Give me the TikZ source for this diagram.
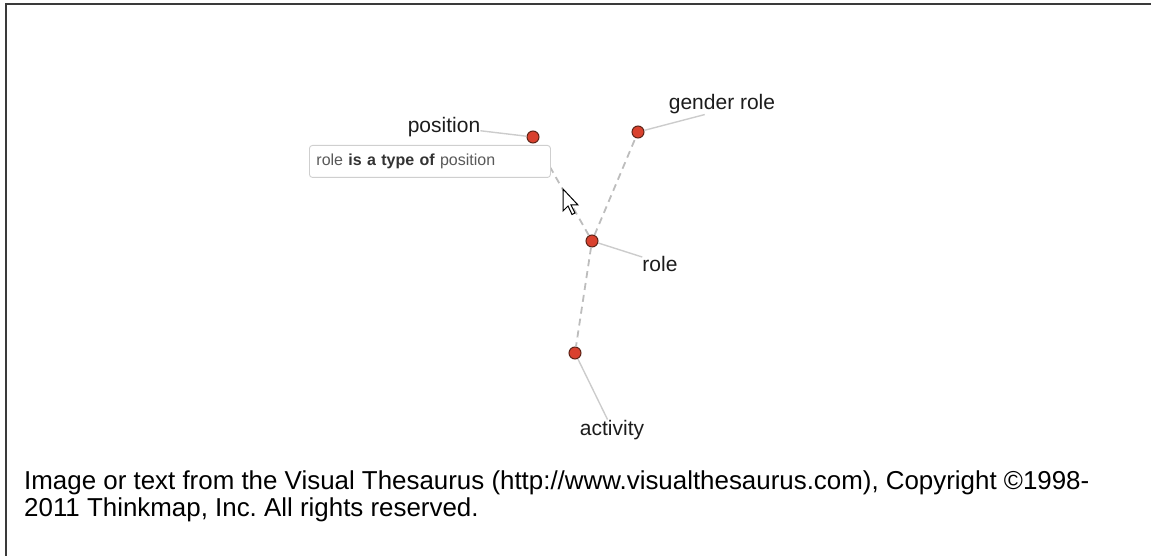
\documentclass[tikz,border=0pt]{standalone}
\usepackage{fontspec}
\setmainfont{Liberation Sans}
\usepackage{xcolor}

\begin{document}
\begin{tikzpicture}[x=1pt,y=-1pt,
  dotnode/.style={circle,draw=dotrim,fill=dotred,line width=1pt,inner sep=0pt,minimum size=12},
  wordlabel/.style={anchor=base,inner sep=0pt,text=labelgray,font=\fontsize{21}{25}\selectfont},
  solidedge/.style={draw=edgegray,line width=1.4pt},
  dashededge/.style={draw=dashgray,line width=1.8pt,dash pattern=on 7pt off 5pt},
  tipbox/.style={draw=boxgray,fill=white,line width=0.9pt,rounded corners=3pt,inner xsep=7,inner ysep=0,minimum height=32,text width=227,align=left,text=tipgray,font=\fontsize{16}{19}\selectfont}]
\definecolor{dotred}{HTML}{D9412E}
\definecolor{dotrim}{HTML}{5E2418}
\definecolor{edgegray}{HTML}{CCCCCC}
\definecolor{dashgray}{HTML}{BDBDBD}
\definecolor{labelgray}{HTML}{1C1C1C}
\definecolor{boxgray}{HTML}{CFCFCF}
\definecolor{tipgray}{HTML}{595959}
\definecolor{tipdark}{HTML}{333333}
\definecolor{framegray}{HTML}{3A3A3A}
\useasboundingbox (0,0) rectangle (1151,556);
\draw[framegray,line width=1.3pt] (6,556) -- (6,4) -- (1151,4);
% words and their dots
\foreach \name/\px/\py in {position/533/137,gender/638/132,role/592/241,activity/575/353}
  {\node [dotnode] (\name) at (\px,\py) {};}
\foreach \name/\word/\px/\py in {position/position/444/133,gender/gender role/722/110,role/role/660/271,activity/activity/612/435}
  {\node [wordlabel] (\name-lab) at (\px,\py) {\word};}
\foreach \name/\ang in {position/355,gender/210,role/160,activity/114}
  {\draw [solidedge] (\name) -- (\name-lab.\ang);}
\foreach \other in {position,gender,activity}
  {\draw [dashededge] (role) -- (\other);}
% hover box and pointer
\node [tipbox,anchor=north west] (tip) at (309,145) {role {\bfseries\color{tipdark}is a type of} position};
\draw [fill=white,line width=1pt] (563,189) -- ++(0,22) -- ++(5,-5) -- ++(4,8.5) -- ++(3,-1.5) -- ++(-4,-8) -- ++(7,0) -- cycle;
\node [anchor=base west,inner sep=0pt,align=left,text=black,font=\fontsize{25.9}{27}\selectfont] (credit) at (24,516)
  {Image or text from the Visual Thesaurus (http://www.visualthesaurus.com), Copyright ©1998-\\2011 Thinkmap, Inc.\ All rights reserved.};
\end{tikzpicture}
\end{document}
